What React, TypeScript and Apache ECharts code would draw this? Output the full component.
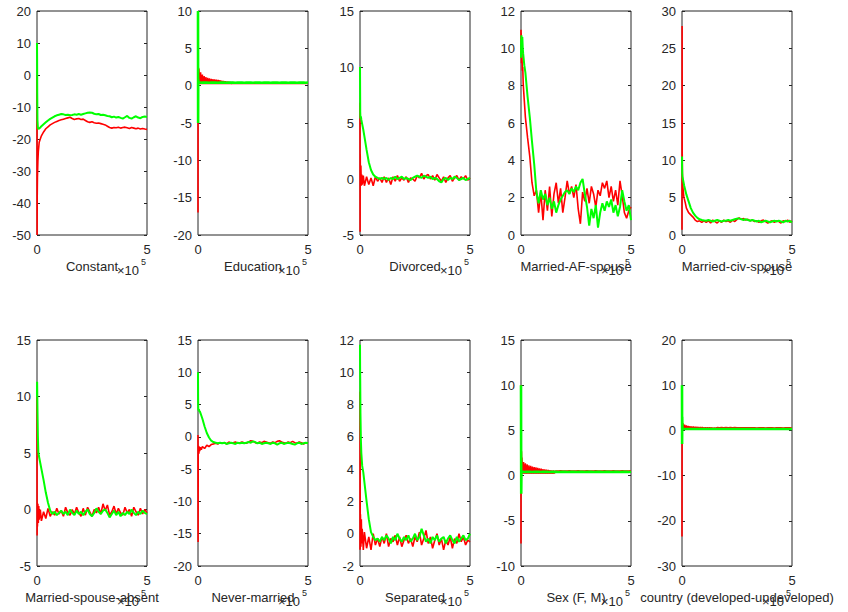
import React, { useEffect, useRef } from "react";
import * as echarts from "echarts";

// shared x grid (units of 1e5)
const X = [0, 0.005, 0.01, 0.02, 0.04, 0.06, 0.08, 0.1, 0.15, 0.2,
  0.3, 0.4, 0.5, 0.6, 0.7, 0.8, 0.9, 1.0,
  1.1, 1.2, 1.3, 1.4, 1.5, 1.6, 1.7, 1.8, 1.9, 2.0,
  2.1, 2.2, 2.3, 2.4, 2.5, 2.6, 2.7, 2.8, 2.9, 3.0,
  3.1, 3.2, 3.3, 3.4, 3.5, 3.6, 3.7, 3.8, 3.9, 4.0,
  4.1, 4.2, 4.3, 4.4, 4.5, 4.6, 4.7, 4.8, 4.9, 5.0];

const X_FRINGE = [0.04, 0.08, 0.12, 0.16, 0.2, 0.24, 0.28, 0.32, 0.36, 0.4,
  0.44, 0.48, 0.52, 0.56, 0.6, 0.64, 0.68, 0.72, 0.76, 0.8,
  0.84, 0.88, 0.92, 0.96, 1.0, 1.04, 1.08, 1.12, 1.16, 1.2,
  1.24, 1.28, 1.32, 1.36, 1.4, 1.44, 1.48, 1.52, 1.56, 1.6];

const LABELS = ["Constant", "Education", "Divorced", "Married-AF-spouse", "Married-civ-spouse",
  "Married-spouse-absent", "Never-married", "Separated", "Sex (F, M)", "country (developed-undeveloped)"];
const Y_MIN = [-50, -20, -5, 0, 0, -5, -20, -2, -10, -30];
const Y_MAX = [20, 10, 15, 12, 30, 15, 15, 12, 15, 20];
const Y_STEP = [10, 5, 5, 2, 5, 5, 5, 2, 5, 10];

const RED_CONSTANT = [0, -50, -38, -32, -27, -24, -22.5, -21, -20, -19,
  -17.8, -16.8, -16.2, -15.6, -15.2, -14.8, -14.5, -14.2,
  -14.0, -13.8, -13.6, -13.4, -13.2, -13.6, -13.9, -13.7, -13.6, -13.9,
  -13.8, -14.2, -14.6, -14.8, -14.6, -14.9, -15.1, -15.0, -15.2, -15.4,
  -15.6, -16.0, -16.4, -16.6, -16.4, -16.5, -16.3, -16.6, -16.4, -16.3,
  -16.5, -16.7, -16.4, -16.6, -16.8, -16.6, -16.9, -16.7, -16.9, -17.0];
const GREEN_CONSTANT = [10, 5, -5, -14, -16.5, -16.8, -16.9, -16.7, -16.4, -16.0,
  -15.4, -14.8, -14.2, -13.7, -13.3, -12.9, -12.6, -12.4,
  -12.2, -12.3, -12.5, -12.4, -12.6, -12.5, -12.3, -12.4, -12.2, -12.4,
  -12.2, -12.0, -11.8, -11.7, -11.8, -12.1, -12.3, -12.2, -12.5, -12.4,
  -12.6, -12.8, -12.9, -13.2, -13.0, -13.3, -13.1, -13.4, -13.6, -13.2,
  -12.8, -13.4, -13.6, -13.2, -12.9, -13.3, -13.5, -13.1, -13.0, -13.1];

const RED_EDU = [-17, 3, 0.5, 2.4, 0.3, 0.32, 0.3, 0.31, 0.3, 0.32,
  0.3, 0.31, 0.3, 0.32, 0.3, 0.31, 0.3, 0.32,
  0.3, 0.31, 0.3, 0.32, 0.3, 0.31, 0.3, 0.32, 0.3, 0.31,
  0.3, 0.32, 0.3, 0.31, 0.3, 0.32, 0.3, 0.31, 0.3, 0.32,
  0.3, 0.31, 0.3, 0.32, 0.3, 0.31, 0.3, 0.32, 0.3, 0.31,
  0.3, 0.32, 0.3, 0.31, 0.3, 0.32, 0.3, 0.31, 0.3, 0.32];
const GREEN_EDU = [10, -5, 0.8, 0.42, 0.4, 0.42, 0.41, 0.42, 0.4, 0.42,
  0.41, 0.42, 0.4, 0.42, 0.41, 0.42, 0.4, 0.42,
  0.41, 0.42, 0.4, 0.42, 0.41, 0.42, 0.4, 0.42, 0.41, 0.42,
  0.4, 0.42, 0.41, 0.42, 0.4, 0.42, 0.41, 0.42, 0.4, 0.42,
  0.41, 0.42, 0.4, 0.42, 0.41, 0.42, 0.4, 0.42, 0.41, 0.42,
  0.4, 0.42, 0.41, 0.42, 0.4, 0.42, 0.41, 0.42, 0.4, 0.42];
const FRINGE_EDU = [2.3, 0.25, 1.8, 0.25, 1.5, 0.25, 1.3, 0.25, 1.15, 0.25,
  1.05, 0.25, 0.98, 0.25, 0.92, 0.25, 0.88, 0.25, 0.84, 0.25,
  0.8, 0.25, 0.76, 0.25, 0.72, 0.25, 0.68, 0.25, 0.64, 0.25,
  0.6, 0.25, 0.56, 0.25, 0.52, 0.25, 0.48, 0.25, 0.45, 0.3];

const RED_DIVORCED = [6.8, -4.7, 2.2, -0.5, 1.2, -0.6, 0.4, -0.5, 0.3, -0.6,
  0.2, -0.5, 0.1, -0.6, 0.2, -0.2, 0.1, -0.3,
  0.2, -0.3, 0.1, -0.5, 0.2, -0.2, 0.3, -0.2, 0.1, -0.1,
  0.2, -0.3, 0.1, 0.0, -0.2, 0.3, 0.1, 0.5, 0.0, 0.3,
  0.4, 0.0, 0.3, -0.1, 0.4, 0.1, -0.2, 0.2, -0.3, 0.1,
  0.3, -0.2, 0.1, 0.3, -0.1, 0.2, 0.0, 0.3, -0.1, 0.1];
const GREEN_DIVORCED = [10, 8, 6, 5.4, 5.6, 5.3, 5.1, 4.9, 4.4, 3.8,
  2.6, 1.5, 0.8, 0.4, 0.2, 0.1, 0.0, 0.1,
  0.0, 0.1, -0.1, 0.1, 0.0, 0.2, 0.0, 0.1, 0.2, 0.0,
  0.1, 0.0, -0.1, 0.1, 0.2, 0.3, 0.2, 0.1, 0.3, 0.2,
  0.1, 0.2, 0.0, 0.1, 0.0, -0.2, -0.3, 0.0, 0.1, -0.1,
  0.1, 0.0, 0.2, 0.1, -0.1, 0.0, 0.1, -0.1, 0.0, 0.1];

const RED_AF = [11, 9.5, 10.8, 9.2, 9.8, 8.8, 9.0, 8.1, 7.2, 6.3,
  5.2, 4.2, 2.8, 2.1, 2.4, 1.2, 2.3, 0.8,
  2.4, 1.3, 2.6, 1.0, 2.2, 2.8, 1.7, 2.5, 1.2, 2.0,
  2.9, 2.2, 2.6, 2.0, 2.7, 1.4, 0.6, 2.3, 1.8, 2.5,
  1.7, 2.6, 2.2, 1.5, 2.4, 2.1, 2.8, 2.5, 2.9, 2.0,
  2.6, 1.8, 2.4, 1.6, 2.9, 2.1, 1.2, 0.9, 1.3, 1.5];
const GREEN_AF = [9.5, 10.5, 10.1, 10.7, 10.4, 10.6, 10.0, 9.7, 9.1, 8.7,
  7.4, 6.3, 5.0, 3.8, 2.3, 1.7, 2.4, 1.9,
  2.2, 1.6, 2.0, 1.4, 1.8, 1.2, 1.6, 1.9, 2.1, 2.3,
  2.4, 2.2, 2.5, 2.3, 2.6, 2.4, 2.8, 3.0, 2.2, 1.5,
  0.5, 1.4, 0.9, 1.6, 0.4, 1.2, 1.7, 1.3, 1.8, 1.5,
  1.9, 1.2, 1.6, 1.0, 1.5, 2.4, 1.8, 1.3, 1.6, 0.8];

const RED_CIV = [0.7, 28, 11, 8, 6.5, 5.8, 5.2, 4.9, 4.3, 3.6,
  3.0, 2.7, 2.4, 2.0, 1.8, 1.9, 1.7, 1.9,
  1.7, 1.9, 1.6, 2.0, 1.8, 1.6, 1.9, 1.7, 2.0, 1.8,
  1.9, 1.7, 2.0, 1.8, 2.1, 2.3, 2.1, 2.2, 2.0, 2.1,
  1.9, 2.0, 1.8, 1.9, 1.7, 1.9, 2.0, 1.8, 1.6, 1.8,
  1.9, 1.7, 1.9, 1.8, 1.6, 1.9, 1.8, 2.0, 1.7, 1.9];
const GREEN_CIV = [10.5, 9, 8.3, 7.8, 7.5, 7.2, 6.9, 6.6, 6.0, 5.4,
  4.5, 3.6, 3.0, 2.6, 2.3, 2.1, 2.0, 1.95,
  1.9, 2.0, 1.9, 1.8, 1.9, 2.0, 1.9, 1.8, 1.9, 1.9,
  2.0, 1.9, 2.0, 2.1, 2.2, 2.2, 2.1, 2.0, 2.1, 2.0,
  1.9, 2.0, 1.9, 1.8, 1.9, 1.7, 1.8, 1.9, 1.8, 1.7,
  1.8, 1.9, 1.8, 1.9, 1.8, 1.7, 1.9, 1.8, 1.9, 1.7];

const RED_ABSENT = [10, -2.3, 0.6, -1.5, 0.5, -1.2, 0.3, -0.9, 0.0, -1.0,
  -0.2, -0.8, 0.1, -0.6, -0.2, -0.5, 0.1, -0.4,
  -0.1, -0.6, 0.2, -0.3, -0.5, 0.0, -0.4, 0.2, -0.3, -0.6,
  0.1, -0.5, 0.2, -0.2, -0.6, 0.0, -0.3, 0.2, -0.4, 0.5,
  -0.1, 0.4, -0.5, -0.2, 0.3, -0.4, 0.1, -0.3, -0.5, 0.2,
  -0.3, 0.0, -0.6, 0.2, -0.2, -0.5, 0.1, -0.4, 0.0, -0.3];
const GREEN_ABSENT = [10, 11.3, 10.6, 9.0, 6.5, 5.1, 4.8, 4.6, 4.1, 3.6,
  2.6, 1.5, 0.6, -0.1, -0.4, -0.2, -0.5, -0.3,
  -0.1, -0.4, -0.2, -0.5, 0.0, -0.3, -0.5, -0.1, -0.4, -0.2,
  -0.5, -0.2, 0.0, -0.4, -0.6, -0.3, 0.1, -0.2, -0.4, -0.1,
  0.0, -0.3, -0.7, -0.4, -0.1, -0.5, -0.2, -0.6, -0.3, -0.5,
  -0.2, -0.4, 0.0, -0.3, -0.5, -0.2, -0.4, -0.1, -0.3, -0.4];

const RED_NEVER = [0.3, -16.3, -2.5, -1.4, -2.6, -1.5, -2.2, -1.6, -2.0, -1.5,
  -1.8, -1.3, -1.5, -1.2, -1.1, -1.0, -1.1, -0.9,
  -1.0, -0.9, -1.1, -0.8, -1.0, -0.9, -0.8, -1.0, -0.9, -0.8,
  -0.9, -1.0, -0.8, -0.6, -0.7, -0.9, -1.0, -0.8, -0.9, -0.7,
  -0.8, -0.9, -1.0, -0.8, -0.9, -0.7, -0.6, -0.8, -0.9, -1.0,
  -0.8, -0.9, -0.7, -0.9, -1.0, -0.8, -0.9, -1.1, -0.9, -1.0];
const GREEN_NEVER = [10, 6, 4.5, 4.1, 4.3, 3.9, 4.0, 3.8, 3.3, 2.8,
  1.6, 0.6, -0.1, -0.6, -0.8, -0.9, -1.0, -0.9,
  -1.0, -0.9, -1.1, -1.0, -0.9, -1.0, -1.1, -0.9, -1.0, -0.9,
  -1.0, -0.9, -0.8, -0.9, -0.7, -0.8, -1.0, -0.9, -1.1, -1.0,
  -0.9, -1.0, -1.1, -0.9, -1.0, -1.2, -1.0, -0.9, -1.1, -1.0,
  -0.9, -1.0, -1.1, -1.2, -1.0, -0.9, -1.1, -1.0, -0.9, -1.0];

const RED_SEPARATED = [-1.0, 8.8, -1.0, 1.2, -0.8, 0.9, -0.6, 0.3, -1.0, 0.1,
  -0.9, -0.2, -1.0, 0.0, -0.7, -0.3, -0.8, -0.2,
  -0.6, 0.0, -0.8, -0.3, -0.5, -0.1, -0.7, -0.2, -0.8, -0.4,
  -0.1, -0.6, -0.3, -0.8, -0.2, -0.5, 0.1, -0.7, -0.3, 0.2,
  -0.6, -0.2, -0.9, -0.4, 0.0, -0.7, -0.3, -1.0, -0.4, -0.7,
  -0.2, -0.9, -0.3, -0.6, 0.0, -0.5, -0.2, -0.7, -0.4, -0.5];
const GREEN_SEPARATED = [11.7, 10.2, 9.5, 7.5, 5.8, 5.0, 4.6, 4.2, 3.8, 3.2,
  2.0, 0.9, 0.1, -0.2, -0.4, -0.3, -0.5, -0.2,
  -0.4, -0.1, -0.3, -0.6, -0.2, -0.4, 0.0, -0.3, -0.5, -0.2,
  -0.4, -0.1, -0.5, -0.3, 0.0, -0.4, -0.2, 0.3, -0.1, -0.5,
  -0.3, -0.6, -0.2, -0.4, -0.1, -0.5, -0.3, -0.2, -0.6, -0.3,
  -0.1, -0.4, -0.6, -0.2, -0.5, -0.3, -0.1, -0.4, -0.3, 0.0];

const RED_SEX = [-7.5, 10, 1.0, 2.7, 0.3, 0.32, 0.3, 0.31, 0.3, 0.32,
  0.3, 0.31, 0.3, 0.32, 0.3, 0.31, 0.3, 0.32,
  0.3, 0.31, 0.3, 0.32, 0.3, 0.5, 0.5, 0.52, 0.5, 0.5,
  0.5, 0.52, 0.5, 0.5, 0.5, 0.52, 0.5, 0.5, 0.5, 0.52,
  0.5, 0.5, 0.5, 0.52, 0.5, 0.5, 0.5, 0.52, 0.5, 0.5,
  0.5, 0.52, 0.5, 0.5, 0.5, 0.52, 0.5, 0.5, 0.5, 0.52];
const GREEN_SEX = [10, 3.5, -2.0, 0.45, 0.4, 0.42, 0.41, 0.42, 0.4, 0.42,
  0.41, 0.42, 0.4, 0.42, 0.41, 0.42, 0.4, 0.42,
  0.41, 0.42, 0.4, 0.42, 0.41, 0.42, 0.4, 0.42, 0.41, 0.42,
  0.4, 0.42, 0.41, 0.42, 0.4, 0.42, 0.41, 0.42, 0.4, 0.42,
  0.41, 0.42, 0.4, 0.42, 0.41, 0.42, 0.4, 0.42, 0.41, 0.42,
  0.4, 0.42, 0.41, 0.42, 0.4, 0.42, 0.41, 0.42, 0.4, 0.42];
const FRINGE_SEX = [2.0, 0.25, 1.5, 0.25, 1.35, 0.25, 1.25, 0.25, 1.15, 0.25,
  1.08, 0.25, 1.0, 0.25, 0.95, 0.25, 0.9, 0.25, 0.85, 0.25,
  0.8, 0.25, 0.76, 0.25, 0.72, 0.25, 0.68, 0.25, 0.65, 0.25,
  0.62, 0.25, 0.6, 0.25, 0.58, 0.25, 0.56, 0.25, 0.54, 0.3];

const RED_COUNTRY = [-23.5, 4, 0.5, 1.5, 0.3, 0.32, 0.3, 0.31, 0.3, 0.32,
  0.3, 0.31, 0.3, 0.32, 0.3, 0.31, 0.3, 0.32,
  0.3, 0.31, 0.3, 0.32, 0.3, 0.62, 0.6, 0.62, 0.6, 0.61,
  0.6, 0.62, 0.6, 0.61, 0.6, 0.6, 0.58, 0.6, 0.58, 0.57,
  0.55, 0.56, 0.55, 0.54, 0.55, 0.56, 0.55, 0.54, 0.55, 0.56,
  0.55, 0.54, 0.55, 0.56, 0.55, 0.54, 0.55, 0.56, 0.55, 0.54];
const GREEN_COUNTRY = [10, -3, 3, 0.2, 0.3, 0.32, 0.31, 0.32, 0.3, 0.32,
  0.31, 0.32, 0.3, 0.32, 0.31, 0.32, 0.3, 0.32,
  0.31, 0.32, 0.3, 0.32, 0.31, 0.32, 0.3, 0.32, 0.31, 0.32,
  0.3, 0.32, 0.31, 0.32, 0.3, 0.32, 0.31, 0.32, 0.3, 0.32,
  0.31, 0.32, 0.3, 0.32, 0.31, 0.32, 0.3, 0.32, 0.31, 0.32,
  0.3, 0.32, 0.31, 0.32, 0.3, 0.32, 0.31, 0.32, 0.3, 0.32];
const FRINGE_COUNTRY = [1.6, 0.2, 1.3, 0.2, 1.1, 0.2, 1.0, 0.2, 0.95, 0.2,
  0.9, 0.2, 0.85, 0.2, 0.82, 0.2, 0.8, 0.2, 0.78, 0.2,
  0.76, 0.2, 0.74, 0.2, 0.72, 0.2, 0.7, 0.2, 0.69, 0.2,
  0.68, 0.2, 0.67, 0.2, 0.66, 0.2, 0.65, 0.2, 0.64, 0.3];

const RED = [RED_CONSTANT, RED_EDU, RED_DIVORCED, RED_AF, RED_CIV,
  RED_ABSENT, RED_NEVER, RED_SEPARATED, RED_SEX, RED_COUNTRY];
const GREEN = [GREEN_CONSTANT, GREEN_EDU, GREEN_DIVORCED, GREEN_AF, GREEN_CIV,
  GREEN_ABSENT, GREEN_NEVER, GREEN_SEPARATED, GREEN_SEX, GREEN_COUNTRY];
const FRINGE: (number[] | null)[] = [null, FRINGE_EDU, null, null, null,
  null, null, null, FRINGE_SEX, FRINGE_COUNTRY];
const FLAT_GREEN = [false, true, false, false, false, false, false, false, true, true];

const LEFTS = [37, 198, 360, 521, 682];
const TOPS = [11, 340];
const HEIGHTS = [224, 226];
const W = 110;
const INK = "#262626";
const FONT = "'Liberation Sans', Arial, Helvetica, sans-serif";

export default function App() {
  const ref = useRef<HTMLDivElement>(null);
  useEffect(() => {
    const chart = echarts.init(ref.current!, null, { renderer: "svg" });
    const grid: any[] = [];
    const xAxis: any[] = [];
    const yAxis: any[] = [];
    const series: any[] = [];
    const graphic: any[] = [];
    for (let i = 0; i < 10; i++) {
      const row = Math.floor(i / 5);
      const col = i % 5;
      const left = LEFTS[col];
      const top = TOPS[row];
      const height = HEIGHTS[row];
      grid.push({ left, top, width: W, height, show: true, borderColor: INK, borderWidth: 1, backgroundColor: "transparent" });
      xAxis.push({
        type: "value", gridIndex: i, min: 0, max: 5, interval: 5,
        axisLine: { show: false }, axisTick: { show: false }, splitLine: { show: false },
        axisLabel: { color: INK, fontSize: 13, fontFamily: FONT, margin: 8 },
        name: LABELS[i], nameLocation: "middle", nameGap: 25,
        nameTextStyle: { color: INK, fontSize: 13, fontFamily: FONT },
      });
      const yBase = {
        type: "value", gridIndex: i, min: Y_MIN[i], max: Y_MAX[i], interval: Y_STEP[i],
        axisLine: { show: false }, splitLine: { show: false },
        axisTick: { show: true, inside: true, length: 3, lineStyle: { color: INK, width: 1 } },
      };
      yAxis.push({ ...yBase, position: "left", axisLabel: { color: INK, fontSize: 13, fontFamily: FONT, margin: 6 } });
      yAxis.push({ ...yBase, position: "right", axisLabel: { show: false } });
      const fr = FRINGE[i];
      if (fr) {
        series.push({
          type: "line", xAxisIndex: i, yAxisIndex: 2 * i, showSymbol: false, symbol: "none",
          data: X_FRINGE.map((x, k) => [x, fr[k]]),
          lineStyle: { color: "#ff0000", width: 1.4 }, silent: true,
        });
      }
      series.push({
        type: "line", xAxisIndex: i, yAxisIndex: 2 * i, showSymbol: false, symbol: "none",
        data: X.map((x, k) => [x, RED[i][k]]),
        lineStyle: { color: "#ff0000", width: 1.6 }, silent: true,
      });
      series.push({
        type: "line", xAxisIndex: i, yAxisIndex: 2 * i, showSymbol: false, symbol: "none",
        data: X.map((x, k) => [x, GREEN[i][k]]),
        lineStyle: { color: "#00ff00", width: FLAT_GREEN[i] ? 2.6 : 2 }, silent: true,
      });
      const right = left + W;
      const bottom = top + height;
      graphic.push({
        type: "text", x: right - 8, y: bottom + 35, silent: true,
        style: { text: "×10", fill: INK, fontSize: 13, fontFamily: FONT, align: "right", verticalAlign: "middle" },
      });
      graphic.push({
        type: "text", x: right - 1, y: bottom + 27, silent: true,
        style: { text: "5", fill: INK, fontSize: 9, fontFamily: FONT, align: "right", verticalAlign: "middle" },
      });
    }
    chart.setOption({
      animation: false,
      backgroundColor: "#ffffff",
      grid, xAxis, yAxis, series, graphic,
    });
    return () => chart.dispose();
  }, []);
  return <div ref={ref} style={{ position: "fixed", left: 0, top: 0, width: 848, height: 612 }} />;
}
